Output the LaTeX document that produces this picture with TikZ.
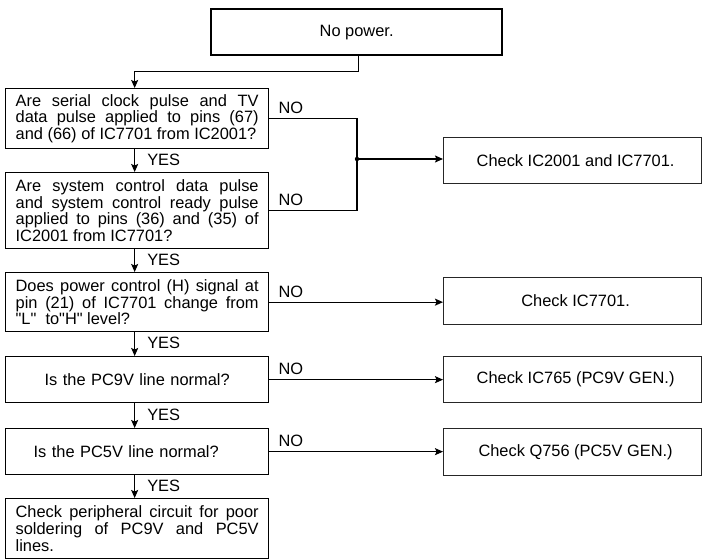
\documentclass[tikz,border=0pt]{standalone}
\usepackage{fontspec}
\setmainfont{Liberation Sans}[Ligatures=TeXOff]
\usetikzlibrary{arrows.meta}
\begin{document}
\begin{tikzpicture}[x=1pt,y=-1pt,
  txt/.style={font=\fontsize{16.4}{16.8}\selectfont},
  qbox/.style={txt,draw,line width=1.3pt,anchor=north west,inner xsep=10pt,inner ysep=0pt,
    text width=243pt,minimum width=263pt,align=justify},
  rbox/.style={txt,draw,line width=1.2pt,draw=black!85,anchor=north west,inner sep=0pt,
    minimum width=258pt,align=center},
  lbl/.style={txt,inner sep=0pt,anchor=base west},
  conn/.style={line width=1.3pt},
  arr/.style={conn,-{Stealth[length=8pt,width=7pt,inset=1.5pt]}}]
\useasboundingbox (0,0) rectangle (702,559);

% start
\node[txt,draw,line width=2.3pt,anchor=north west,minimum width=291pt,minimum height=46pt,inner sep=0pt] (start) at (210,8) {No power.};

% question boxes
\node[qbox,minimum height=60pt] (q1) at (5,88) {Are serial clock pulse and TV\linebreak data pulse applied to pins (67)\linebreak and (66) of IC7701 from IC2001?};
\node[qbox,minimum height=76pt] (q2) at (5,172) {Are system control data pulse\linebreak and system control ready pulse\linebreak applied to pins (36) and (35) of\linebreak IC2001 from IC7701?};
\node[qbox,minimum height=59pt] (q3) at (5,272) {Does power control (H) signal at\linebreak pin (21) of IC7701 change from\linebreak "L"~~to"H" level?};
\node[qbox,minimum height=46pt,align=center] (q4) at (5,356) {Is the PC9V line normal?};
\node[qbox,minimum height=46pt,align=left] (q5) at (5,428) {\hspace*{18pt}Is the PC5V line normal?};
\node[qbox,minimum height=60pt] (q6) at (5,498) {Check peripheral circuit for poor\linebreak soldering of PC9V and PC5V\linebreak lines.};

% result boxes
\node[rbox,minimum height=46pt] (r1) at (443,137) {\hspace*{6pt}Check IC2001 and IC7701.};
\node[rbox,minimum height=47pt] (r2) at (443,277) {\hspace*{6pt}Check IC7701.};
\node[rbox,minimum height=46pt] (r3) at (443,356) {\hspace*{6pt}Check IC765 (PC9V GEN.)};
\node[rbox,minimum height=47pt] (r4) at (443,428) {\hspace*{6pt}Check Q756 (PC5V GEN.)};

% start -> q1
\draw[arr] ([xshift=1.5pt]start.south) -- ++(0,15) -| ([xshift=-2.5pt]q1.north);

% YES arrows
\draw[arr] ([xshift=-2.5pt]q1.south) -- ([xshift=-2.5pt]q2.north) node[midway,lbl,xshift=12pt,yshift=-4.5pt] (y1) {YES};
\draw[arr] ([xshift=-2.5pt]q2.south) -- ([xshift=-2.5pt]q3.north) node[midway,lbl,xshift=12pt,yshift=-4.5pt] (y2) {YES};
\draw[arr] ([xshift=-2.5pt]q3.south) -- ([xshift=-2.5pt]q4.north) node[midway,lbl,xshift=12pt,yshift=-4.5pt] (y3) {YES};
\draw[arr] ([xshift=-2.5pt]q4.south) -- ([xshift=-2.5pt]q5.north) node[midway,lbl,xshift=12pt,yshift=-4.5pt] (y4) {YES};
\draw[arr] ([xshift=-2.5pt]q5.south) -- ([xshift=-2.5pt]q6.north) node[midway,lbl,xshift=12pt,yshift=-4.5pt] (y5) {YES};

% NO branches
\coordinate (jn) at (357,159);
\draw[conn] (q1.east) -| (jn);
\draw[conn] (q2.east) -| (jn);
\fill (jn) circle (2.2pt);
\draw[arr] (jn) -- (jn -| r1.west);
\draw[arr] (q3.east) -- (q3.east -| r2.west);
\draw[arr] (q4.east) -- (q4.east -| r3.west);
\draw[arr] (q5.east) -- (q5.east -| r4.west);

\node[lbl] (n1) at ([xshift=9pt,yshift=5pt]q1.east) {NO};
\node[lbl] (n2) at ([xshift=9pt,yshift=5pt]q2.east) {NO};
\node[lbl] (n3) at ([xshift=9pt,yshift=5pt]q3.east) {NO};
\node[lbl] (n4) at ([xshift=9pt,yshift=5pt]q4.east) {NO};
\node[lbl] (n5) at ([xshift=9pt,yshift=5pt]q5.east) {NO};
\end{tikzpicture}
\end{document}
